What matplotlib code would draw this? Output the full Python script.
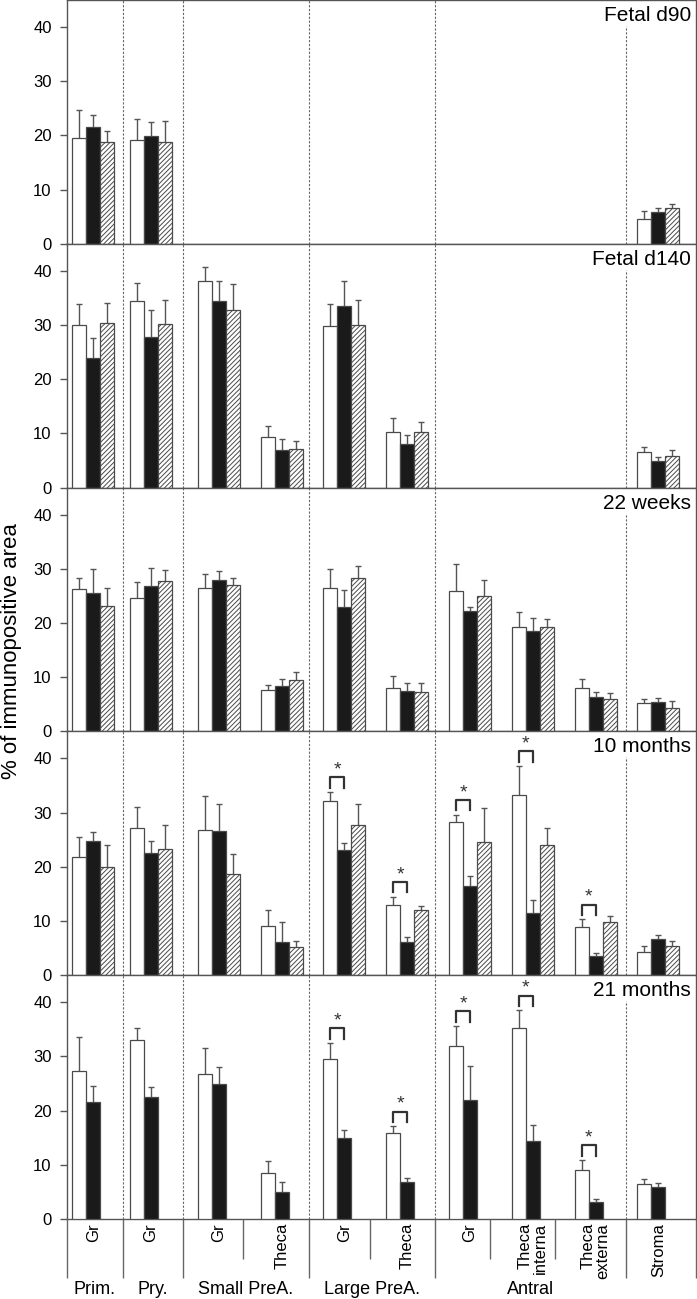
import numpy as np
import matplotlib
matplotlib.use('Agg')
import matplotlib.pyplot as plt

plt.rcParams['font.family'] = ['Liberation Sans', 'DejaVu Sans']
plt.rcParams['hatch.linewidth'] = 0.7
plt.rcParams['hatch.color'] = '#3a3a3a'

nan = np.nan

# categories
ages = ['Fetal d90', 'Fetal d140', '22 weeks', '10 months', '21 months']
tissues = ['Gr', 'Gr', 'Gr', 'Theca', 'Gr', 'Theca', 'Gr',
           'Theca\ninterna', 'Theca\nexterna', 'Stroma']
stages = ['Prim.', 'Pry.', 'Small PreA.', 'Large PreA.', 'Antral']

# white bars (one row per age)
white_mean = [
    [19.5, 19.2, nan, nan, nan, nan, nan, nan, nan, 4.6],
    [30.0, 34.4, 38.1, 9.3, 29.8, 10.3, nan, nan, nan, 6.5],
    [26.3, 24.6, 26.4, 7.6, 26.4, 8.1, 25.9, 19.2, 8.1, 5.2],
    [21.8, 27.1, 26.8, 9.0, 32.1, 12.9, 28.3, 33.2, 8.9, 4.2],
    [27.4, 33.1, 26.8, 8.5, 29.6, 15.8, 32.0, 35.3, 9.0, 6.5],
]
white_se = [
    [5.2, 3.9, nan, nan, nan, nan, nan, nan, nan, 1.4],
    [3.9, 3.4, 2.6, 2.1, 4.1, 2.6, nan, nan, nan, 1.0],
    [2.0, 3.0, 2.7, 1.0, 3.5, 2.2, 5.0, 2.9, 1.5, 0.8],
    [3.8, 3.9, 6.2, 3.1, 1.7, 1.6, 1.3, 5.4, 1.4, 1.1],
    [6.2, 2.2, 4.8, 2.2, 2.9, 1.3, 3.6, 3.2, 1.9, 0.9],
]

# black bars
black_mean = [
    [21.5, 19.9, nan, nan, nan, nan, nan, nan, nan, 5.9],
    [23.9, 27.8, 34.4, 6.9, 33.5, 8.1, nan, nan, nan, 4.9],
    [25.5, 26.8, 28.0, 8.4, 23.0, 7.4, 22.3, 18.5, 6.3, 5.5],
    [24.7, 22.6, 26.6, 6.2, 23.1, 6.2, 16.4, 11.5, 3.6, 6.6],
    [21.6, 22.6, 24.9, 4.9, 15.0, 6.9, 21.9, 14.4, 3.1, 5.9],
]
black_se = [
    [2.3, 2.5, nan, nan, nan, nan, nan, nan, nan, 0.7],
    [3.7, 4.9, 3.7, 2.0, 4.6, 1.7, nan, nan, nan, 0.8],
    [4.4, 3.4, 1.6, 1.2, 3.1, 1.6, 0.7, 2.4, 0.9, 0.7],
    [1.7, 2.2, 5.0, 3.6, 1.3, 0.8, 2.0, 2.4, 0.5, 0.9],
    [2.9, 1.8, 3.2, 1.9, 1.5, 0.6, 6.4, 3.0, 0.6, 0.8],
]

# hatched bars (none at 21 months)
hatch_mean = [
    [18.7, 18.7, nan, nan, nan, nan, nan, nan, nan, 6.7],
    [30.4, 30.2, 32.7, 7.1, 30.1, 10.3, nan, nan, nan, 5.8],
    [23.2, 27.8, 27.1, 9.5, 28.3, 7.2, 25.0, 19.3, 6.0, 4.3],
    [20.0, 23.3, 18.7, 5.2, 27.7, 12.1, 24.6, 24.1, 9.8, 5.4],
    None,
]
hatch_se = [
    [2.2, 3.9, nan, nan, nan, nan, nan, nan, nan, 0.7],
    [3.6, 4.4, 4.9, 1.5, 4.5, 1.9, nan, nan, nan, 1.1],
    [3.3, 2.0, 1.2, 1.5, 2.3, 1.7, 2.9, 1.5, 1.0, 1.3],
    [4.0, 4.4, 3.6, 1.1, 3.9, 0.7, 6.3, 3.1, 1.1, 1.0],
    None,
]

# white vs black significant differences (category index)
significant = [[], [], [], [4, 5, 6, 7, 8], [4, 5, 6, 7, 8]]

# layout
pos = np.array([0, 0.92, 2, 3, 4, 5, 6, 7, 8, 9])
bw = 0.223
group_edges = [-0.42, 0.47, 1.43, 3.43, 5.44, 8.48, 9.6]
sub_edges = [2.38, 4.40, 6.32, 7.35]
xlim = (-0.42, 9.6)

W, H = 697, 1299
fig = plt.figure(figsize=(W / 100, H / 100), dpi=100)
left, right = 67 / W, 696 / W
panel_h = 243.8
grey = '#555555'
edge = '#4a4a4a'


def draw_series(ax, x, mean, se, **kw):
    mean = np.array(mean, dtype=float)
    se = np.array(se, dtype=float)
    ok = ~np.isnan(mean)
    ax.errorbar(x[ok], mean[ok], yerr=se[ok], fmt='none', ecolor='#555555',
                elinewidth=1, capsize=2.3, capthick=1, zorder=2)
    ax.bar(x[ok], mean[ok], bw, edgecolor=edge, linewidth=0.9, zorder=3, **kw)


for i, age in enumerate(ages):
    top = i * panel_h
    ax = fig.add_axes([left, 1 - (top + panel_h) / H, right - left, panel_h / H])
    ax.set_xlim(*xlim)
    ax.set_ylim(0, 45)

    draw_series(ax, pos - bw, white_mean[i], white_se[i], color='white')
    draw_series(ax, pos, black_mean[i], black_se[i], color='#1a1a1a')
    if hatch_mean[i] is not None:
        draw_series(ax, pos + bw, hatch_mean[i], hatch_se[i], color='white', hatch='///////')

    # group separators
    for x in group_edges[1:-2]:
        ax.axvline(x, color='#666666', ls=(0, (2, 1.5)), lw=0.8, zorder=1)
    ax.vlines(group_edges[-2], 0, 40.2, color='#666666', ls=(0, (2, 1.5)), lw=0.8, zorder=1)

    # significance brackets
    for c in significant[i]:
        y = max(white_mean[i][c] + white_se[i][c], black_mean[i][c] + black_se[i][c]) + 2.7
        x0, x1 = pos[c] - bw, pos[c]
        ax.plot([x0, x0, x1, x1], [y - 1.9, y, y, y - 1.9], color='#333333', lw=1.6, zorder=4)
        ax.text((x0 + x1) / 2, y - 0.2, '*', ha='center', va='bottom', fontsize=14, color='#333333')

    ax.text(0.992, 0.975, age, transform=ax.transAxes, ha='right', va='top', fontsize=15)

    ax.set_xticks([])
    ax.set_yticks([0, 10, 20, 30, 40])
    ax.tick_params(axis='y', direction='out', length=5, width=1, color=grey,
                   labelsize=12, pad=6)
    for s in ax.spines.values():
        s.set_color(grey)
        s.set_linewidth(1.0)

# category labels under the last panel
axl = fig.add_axes([left, 0, right - left, 80 / H])
axl.set_xlim(*xlim)
axl.set_ylim(80, 0)
axl.axis('off')
axl.vlines(group_edges, 0, 59, color='#666666', lw=1, clip_on=False)
axl.vlines(sub_edges, 0, 40, color='#666666', lw=1, clip_on=False)
for x, t in zip(pos, tissues):
    axl.text(x, 4, t, rotation=90, ha='center', va='top', fontsize=12,
             multialignment='right', linespacing=1.0)
for k, st in enumerate(stages):
    axl.text((group_edges[k] + group_edges[k + 1]) / 2, 71, st, ha='center',
             va='center', fontsize=13)

fig.text(12 / W, 1 - 651 / H, '% of immunopositive area', rotation=90,
         ha='center', va='center', fontsize=16)

fig.savefig('out.png', dpi=100)
